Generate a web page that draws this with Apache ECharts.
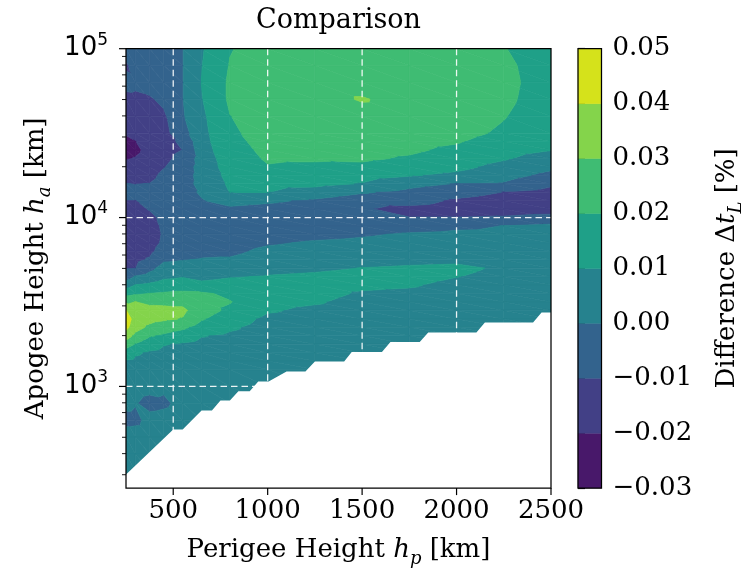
<!DOCTYPE html>
<html><head><meta charset="utf-8">
<script src="https://cdn.jsdelivr.net/npm/echarts@6/dist/echarts.min.js"></script>
<style>html,body{margin:0;padding:0;background:#fff}#chart{width:742px;height:572px}</style>
</head><body><div id="chart"></div>
<script>
// ---- data ----
const perigeeKm = [250, 300, 375, 450, 550, 650, 800, 1000, 1250, 1500, 1750, 2000, 2250, 2500];
const apogeeKm = [100000, 79433, 63096, 50119, 39811, 31623, 28184, 25119, 22387, 19953, 17783, 15849, 14125, 12589, 11220, 10000, 8913, 7943, 7079, 6310, 5623, 5012, 4467, 3981, 3548, 3162, 2818, 2512, 2239, 1995, 1778, 1585, 1413, 1259, 1000, 794, 631, 501, 398, 316, 251];
// Difference Δt_L [%], one row per apogee value, one column per perigee value
const deltaTL = [
 [-0.005, -0.005, -0.005, -0.004, -0.0003, 0.009, 0.0195, 0.025, 0.025, 0.025, 0.025, 0.025, 0.0205, 0.015],
 [-0.0115, -0.006, -0.0055, -0.0045, -0.0003, 0.0097, 0.0205, 0.025, 0.0255, 0.0255, 0.0255, 0.0255, 0.022, 0.015],
 [-0.007, -0.008, -0.0065, -0.0055, -0.0003, 0.0102, 0.0215, 0.025, 0.026, 0.026, 0.0255, 0.0255, 0.0225, 0.0155],
 [-0.0127, -0.012, -0.011, -0.008, -0.0003, 0.0095, 0.0215, 0.025, 0.026, 0.0308, 0.026, 0.0255, 0.022, 0.015],
 [-0.0162, -0.016, -0.015, -0.0115, -0.001, 0.008, 0.0198, 0.0245, 0.0255, 0.026, 0.0255, 0.025, 0.0205, 0.014],
 [-0.0193, -0.0185, -0.0165, -0.013, -0.004, 0.007, 0.0185, 0.0235, 0.0245, 0.025, 0.024, 0.023, 0.0185, 0.013],
 [-0.0219, -0.0202, -0.017, -0.0135, -0.008, 0.0065, 0.0175, 0.023, 0.0235, 0.024, 0.023, 0.0208, 0.016, 0.0115],
 [-0.0231, -0.022, -0.017, -0.0135, -0.0098, 0.0055, 0.0165, 0.022, 0.0225, 0.023, 0.0215, 0.018, 0.0135, 0.0103],
 [-0.0207, -0.0195, -0.016, -0.0125, -0.007, 0.004, 0.0155, 0.021, 0.021, 0.0215, 0.019, 0.0155, 0.011, 0.006],
 [-0.0173, -0.0165, -0.0145, -0.0105, -0.005, 0.0035, 0.0145, 0.0195, 0.0185, 0.018, 0.015, 0.0125, 0.007, 0.002],
 [-0.0136, -0.0135, -0.0125, -0.008, -0.004, 0.003, 0.013, 0.016, 0.0155, 0.014, 0.0108, 0.008, 0.0035, -0.0025],
 [-0.0098, -0.0102, -0.0098, -0.0065, -0.0035, 0.0025, 0.0115, 0.013, 0.0125, 0.0095, 0.003, -0.0005, -0.001, -0.008],
 [-0.007, -0.008, -0.0065, -0.0055, -0.003, 0.001, 0.0102, 0.0102, 0.006, 0.001, -0.0025, -0.006, -0.0102, -0.0135],
 [-0.0102, -0.0102, -0.007, -0.006, -0.003, -0.0005, 0.003, 0.0015, -0.0015, -0.006, -0.006, -0.0115, -0.0145, -0.0155],
 [-0.0116, -0.012, -0.0095, -0.007, -0.004, -0.0025, -0.0015, -0.003, -0.005, -0.009, -0.013, -0.015, -0.015, -0.0145],
 [-0.013, -0.0135, -0.012, -0.008, -0.0055, -0.004, -0.004, -0.005, -0.0065, -0.0085, -0.0098, -0.0098, -0.009, -0.007],
 [-0.0145, -0.015, -0.0135, -0.0085, -0.0065, -0.0045, -0.005, -0.0055, -0.0055, -0.0055, -0.004, -0.002, 0.0002, 0.002],
 [-0.0159, -0.016, -0.014, -0.009, -0.0065, -0.0045, -0.005, -0.004, -0.0025, -0.001, 0.001, 0.002, 0.0025, 0.004],
 [-0.0147, -0.015, -0.0135, -0.0085, -0.006, -0.004, -0.004, -0.001, 0.001, 0.002, 0.0035, 0.004, 0.004, 0.005],
 [-0.0134, -0.0135, -0.012, -0.006, -0.004, -0.002, -0.002, 0.002, 0.0035, 0.0045, 0.006, 0.006, 0.005, 0.005],
 [-0.012, -0.012, -0.009, -0.0015, -0.0003, 0.0005, 0.001, 0.0045, 0.006, 0.007, 0.008, 0.0085, 0.0075, 0.005],
 [-0.0107, -0.0102, -0.003, 0.004, 0.0045, 0.004, 0.005, 0.0075, 0.0085, 0.0102, 0.011, 0.0115, 0.009, 0.005],
 [-0.0052, 0.001, 0.004, 0.008, 0.0095, 0.008, 0.0095, 0.0105, 0.0115, 0.013, 0.0135, 0.0102, 0.008, 0.005],
 [0.0061, 0.0103, 0.012, 0.0145, 0.015, 0.012, 0.013, 0.013, 0.0135, 0.012, 0.011, 0.0075, 0.006, 0.005],
 [0.0164, 0.0187, 0.0202, 0.021, 0.022, 0.0215, 0.018, 0.0135, 0.013, 0.009, 0.008, 0.006, 0.0055, 0.005],
 [0.0287, 0.0302, 0.028, 0.0275, 0.0275, 0.024, 0.0205, 0.013, 0.011, 0.007, 0.0065, 0.005, 0.005, 0.005],
 [0.0404, 0.034, 0.033, 0.033, 0.032, 0.0245, 0.018, 0.011, 0.008, 0.006, 0.005, 0.005, 0.005, 0.005],
 [0.045, 0.036, 0.033, 0.0315, 0.0295, 0.021, 0.0145, 0.008, 0.0065, 0.005, 0.005, 0.005, 0.005, 0.005],
 [0.0427, 0.034, 0.028, 0.025, 0.022, 0.016, 0.0115, 0.0065, 0.0055, 0.005, 0.005, 0.005, 0.005, 0.005],
 [0.035, 0.0273, 0.021, 0.0185, 0.015, 0.0105, 0.0085, 0.0055, 0.005, 0.005, 0.005, 0.005, 0.005, 0.005],
 [0.0245, 0.0195, 0.014, 0.0105, 0.009, 0.0075, 0.007, 0.005, 0.005, 0.005, 0.005, 0.005, 0.005, 0.005],
 [0.0157, 0.0111, 0.009, 0.008, 0.007, 0.006, 0.006, 0.005, 0.005, 0.005, 0.005, 0.005, 0.005, 0.005],
 [0.0092, 0.0085, 0.0075, 0.006, 0.0055, 0.0055, 0.0055, 0.005, 0.005, 0.005, 0.005, 0.005, 0.005, 0.005],
 [0.0073, 0.0065, 0.0055, 0.0045, 0.004, 0.005, 0.005, 0.005, 0.005, 0.005, 0.005, 0.005, 0.005, 0.005],
 [0.0037, 0.0035, 0.0025, 0.0015, -0.0002, 0.0045, 0.005, 0.005, 0.005, 0.005, 0.005, 0.005, 0.005, 0.005],
 [0.002, 0.0005, -0.0025, -0.0015, 0.0025, 0.005, 0.005, 0.005, 0.005, 0.005, 0.005, 0.005, 0.005, 0.005],
 [-0.0025, -0.002, 0.0025, 0.003, 0.0045, 0.005, 0.005, 0.005, 0.005, 0.005, 0.005, 0.005, 0.005, 0.005],
 [0.004, 0.004, 0.0045, 0.0045, 0.005, 0.005, 0.005, 0.005, 0.005, 0.005, 0.005, 0.005, 0.005, 0.005],
 [0.0045, 0.005, 0.005, 0.005, 0.005, 0.005, 0.005, 0.005, 0.005, 0.005, 0.005, 0.005, 0.005, 0.005],
 [0.005, 0.005, 0.005, 0.005, 0.005, 0.005, 0.005, 0.005, 0.005, 0.005, 0.005, 0.005, 0.005, 0.005],
 [0.005, 0.005, 0.005, 0.005, 0.005, 0.005, 0.005, 0.005, 0.005, 0.005, 0.005, 0.005, 0.005, 0.005]
];
const levels = [-0.03, -0.02, -0.01, 0.00, 0.01, 0.02, 0.03, 0.04, 0.05];
const levelColors = ['#48186a', '#424086', '#33638d', '#26828e', '#1fa088', '#3fbc73', '#84d44b', '#d5e21b'];
// lower edge of the region with data (apogee must exceed this)
const maskPerigeeKm = [250, 500, 550, 650, 705, 750, 800, 845, 905, 950, 1005, 1100, 1200, 1250, 1405, 1445, 1605, 1650, 1805, 1850, 2105, 2150, 2405, 2450, 2500];
const maskApogeeKm  = [293, 555, 555, 720, 720, 825, 825, 935, 935, 1070, 1070, 1225, 1225, 1405, 1405, 1600, 1600, 1830, 1830, 2085, 2085, 2390, 2390, 2740, 2740];
const xTickValues = [500, 1000, 1500, 2000, 2500];
const yMajorTicks = [1000, 10000, 100000];
const yMinorTicks = [300, 400, 500, 600, 700, 800, 900, 2000, 3000, 4000, 5000, 6000, 7000, 8000, 9000, 20000, 30000, 40000, 50000, 60000, 70000, 80000, 90000];
const xMin = 250, xMax = 2500, yMin = 250, yMax = 100000;

const SERIF = 'DejaVu Serif', SANS = 'DejaVu Sans';

// ---- contour fill helpers ----
function clipPoly(poly, f) {
  const out = [];
  for (let n = 0; n < poly.length; n++) {
    const a = poly[n], b = poly[(n + 1) % poly.length];
    const fa = f(a), fb = f(b);
    if (fa >= 0) out.push(a);
    if ((fa >= 0) !== (fb >= 0)) {
      const t = fa / (fa - fb);
      out.push({x: a.x + t * (b.x - a.x), y: a.y + t * (b.y - a.y), v: a.v + t * (b.v - a.v)});
    }
  }
  return out;
}
const cells = [];
for (let j = 0; j < apogeeKm.length - 1; j++)
  for (let i = 0; i < perigeeKm.length - 1; i++)
    cells.push([perigeeKm[i], apogeeKm[j], i, j]);

function renderContour(params, api) {
  const i = api.value(2), j = api.value(3);
  const c = [[i, j], [i + 1, j], [i + 1, j + 1], [i, j + 1]].map(function (ab) {
    const p = api.coord([perigeeKm[ab[0]], apogeeKm[ab[1]]]);
    return {x: p[0], y: p[1], v: deltaTL[ab[1]][ab[0]]};
  });
  const tris = [[c[0], c[1], c[2]], [c[0], c[2], c[3]]];
  const children = [];
  tris.forEach(function (tri) {
    for (let k = 0; k < levels.length - 1; k++) {
      const lo = levels[k], hi = levels[k + 1];
      let poly = clipPoly(tri, function (q) { return q.v - lo; });
      if (poly.length < 3) continue;
      poly = clipPoly(poly, function (q) { return hi - q.v; });
      if (poly.length < 3) continue;
      children.push({type: 'polygon', shape: {points: poly.map(function (q) { return [q.x, q.y]; })},
        style: {fill: levelColors[k], stroke: levelColors[k], lineWidth: 0.7}});
    }
  });
  return {type: 'group', children: children};
}
function renderMask(params, api) {
  const pts = maskPerigeeKm.map(function (x, k) { return api.coord([x, maskApogeeKm[k]]); });
  const br = api.coord([xMax, yMin]), bl = api.coord([xMin, yMin]);
  pts.push([br[0] + 2, br[1] + 2]); pts.push([bl[0] - 2, bl[1] + 2]);
  pts[0] = [pts[0][0] - 2, pts[0][1]];
  return {type: 'polygon', shape: {points: pts}, style: {fill: '#ffffff'}};
}
function renderGridLines(params, api) {
  const tl = api.coord([xMin, yMax]), br = api.coord([xMax, yMin]);
  const ch = [];
  const st = {stroke: 'rgba(255,255,255,0.9)', lineWidth: 1.3, lineDash: [6.5, 4]};
  xTickValues.filter(function (v) { return v > xMin && v < xMax; }).forEach(function (v) {
    const x = api.coord([v, yMin])[0];
    ch.push({type: 'line', shape: {x1: x, y1: tl[1], x2: x, y2: br[1]}, style: st});
  });
  yMajorTicks.filter(function (v) { return v > yMin && v < yMax; }).forEach(function (v) {
    const y = api.coord([xMin, v])[1];
    ch.push({type: 'line', shape: {x1: tl[0], y1: y, x2: br[0], y2: y}, style: st});
  });
  return {type: 'group', children: ch};
}
function renderFrame(params, api) {
  const tl = api.coord([xMin, yMax]), br = api.coord([xMax, yMin]);
  return {type: 'rect', shape: {x: tl[0], y: tl[1], width: br[0] - tl[0], height: br[1] - tl[1]},
    style: {fill: null, stroke: '#000', lineWidth: 1.25}};
}
function renderTicks(params, api) {
  const bl = api.coord([xMin, yMin]);
  const ch = [];
  function ln(x1, y1, x2, y2, w) { ch.push({type: 'line', shape: {x1: x1, y1: y1, x2: x2, y2: y2}, style: {stroke: '#000', lineWidth: w}}); }
  xTickValues.forEach(function (v) { const x = api.coord([v, yMin])[0]; ln(x, bl[1], x, bl[1] + 7, 1.2); });
  yMajorTicks.forEach(function (v) { const y = api.coord([xMin, v])[1]; ln(bl[0] - 7, y, bl[0], y, 1.2); });
  yMinorTicks.forEach(function (v) { const y = api.coord([xMin, v])[1]; ln(bl[0] - 4, y, bl[0], y, 0.9); });
  return {type: 'group', children: ch};
}
const cbData = levelColors.map(function (c, k) { return [0.5, (levels[k] + levels[k + 1]) / 2, k]; });
function renderColorbar(params, api) {
  const k = api.value(2);
  const p0 = api.coord([0, levels[k]]), p1 = api.coord([1, levels[k + 1]]);
  return {type: 'rect', shape: {x: p0[0], y: p1[1], width: p1[0] - p0[0], height: p0[1] - p1[1]},
    style: {fill: levelColors[k], stroke: levelColors[k], lineWidth: 0.5}};
}
function renderCbFrame(params, api) {
  const p0 = api.coord([0, levels[0]]), p1 = api.coord([1, levels[levels.length - 1]]);
  return {type: 'rect', shape: {x: p0[0], y: p1[1], width: p1[0] - p0[0], height: p0[1] - p1[1]},
    style: {fill: null, stroke: '#000', lineWidth: 1.25}};
}

function richSet() {
  return {
    n: {fontFamily: SERIF, fontSize: 26, lineHeight: 36, color: '#000', verticalAlign: 'middle'},
    i: {fontFamily: SERIF, fontSize: 26, lineHeight: 36, color: '#000', fontStyle: 'italic', verticalAlign: 'middle'},
    s: {fontFamily: SERIF, fontSize: 18, lineHeight: 20, color: '#000', fontStyle: 'italic', verticalAlign: 'bottom'}
  };
}

const chart = echarts.init(document.getElementById('chart'), null, {renderer: 'canvas'});
chart.setOption({
  animation: false,
  backgroundColor: '#ffffff',
  graphic: [{type: 'text', x: 338.5, y: 21, style: {text: 'Comparison', fontFamily: SERIF, fontSize: 27, fill: '#000', align: 'center', verticalAlign: 'middle'}}],
  grid: [
    {left: 126, top: 48.7, width: 425, height: 439.4, outerBoundsMode: 'none', containLabel: false},
    {left: 578, top: 48.7, width: 23.5, height: 439.4, outerBoundsMode: 'none', containLabel: false}
  ],
  xAxis: [
    {type: 'value', gridIndex: 0, min: xMin, max: xMax, interval: 250,
     axisLine: {show: false}, axisTick: {show: false}, splitLine: {show: false},
     axisLabel: {fontFamily: SERIF, fontSize: 26, color: '#000', margin: 10,
       formatter: function (v) { return v % 500 === 0 ? String(v) : ''; }},
     name: '{n|Perigee Height }{i|h}{s|p}{n| [km]}', nameLocation: 'middle', nameGap: 44, nameMoveOverlap: false,
     nameTextStyle: {fontFamily: SERIF, fontSize: 26, color: '#000', rich: richSet()}},
    {type: 'value', gridIndex: 1, min: 0, max: 1, show: false}
  ],
  yAxis: [
    {type: 'log', logBase: 10, gridIndex: 0, min: yMin, max: yMax,
     axisLine: {show: false}, axisTick: {show: false}, splitLine: {show: false}, minorTick: {show: false},
     axisLabel: {showMinLabel: false, margin: 18,
       formatter: function (v) { return '{b|10}{e|' + Math.round(Math.log10(v)) + '}'; },
       rich: {b: {fontFamily: SANS, fontSize: 26, lineHeight: 34, color: '#000', verticalAlign: 'middle'},
              e: {fontFamily: SANS, fontSize: 17, lineHeight: 21, color: '#000', verticalAlign: 'top'}}},
     name: '{n|Apogee Height }{i|h}{s|a}{n| [km]}', nameLocation: 'middle', nameRotate: 90, nameGap: 72, nameMoveOverlap: false,
     nameTextStyle: {fontFamily: SERIF, fontSize: 26, color: '#000', rich: richSet()}},
    {type: 'value', gridIndex: 1, min: -0.03, max: 0.05, interval: 0.01, position: 'right',
     axisLine: {show: false}, splitLine: {show: false},
     axisTick: {show: true, length: 7, lineStyle: {color: '#000', width: 1.2}},
     axisLabel: {fontFamily: SERIF, fontSize: 26, color: '#000', margin: 11,
       formatter: function (v) { if (Math.abs(v) < 1e-9) return '0.00'; return v < 0 ? '\u2212' + Math.abs(v).toFixed(2) : v.toFixed(2); }},
     name: '{n|Difference \u0394}{i|t}{s|L}{n| [%]}', nameLocation: 'middle', nameRotate: 90, nameGap: 108, nameMoveOverlap: false,
     nameTextStyle: {fontFamily: SERIF, fontSize: 26, color: '#000', rich: richSet()}}
  ],
  series: [
    {type: 'custom', name: 'contour', xAxisIndex: 0, yAxisIndex: 0, data: cells, renderItem: renderContour, clip: true, z: 2, silent: true},
    {type: 'custom', name: 'mask', xAxisIndex: 0, yAxisIndex: 0, data: [[xMin, yMin]], renderItem: renderMask, clip: true, z: 3, silent: true},
    {type: 'custom', name: 'grid', xAxisIndex: 0, yAxisIndex: 0, data: [[xMin, yMin]], renderItem: renderGridLines, z: 4, silent: true},
    {type: 'custom', name: 'frame', xAxisIndex: 0, yAxisIndex: 0, data: [[xMin, yMin]], renderItem: renderFrame, z: 5, silent: true},
    {type: 'custom', name: 'ticks', xAxisIndex: 0, yAxisIndex: 0, data: [[xMin, yMin]], renderItem: renderTicks, clip: false, z: 5, silent: true},
    {type: 'custom', name: 'colorbar', xAxisIndex: 1, yAxisIndex: 1, data: cbData, renderItem: renderColorbar, z: 2, silent: true},
    {type: 'custom', name: 'cbframe', xAxisIndex: 1, yAxisIndex: 1, data: [[0.5, 0.01]], renderItem: renderCbFrame, z: 3, silent: true}
  ]
});
</script></body></html>
